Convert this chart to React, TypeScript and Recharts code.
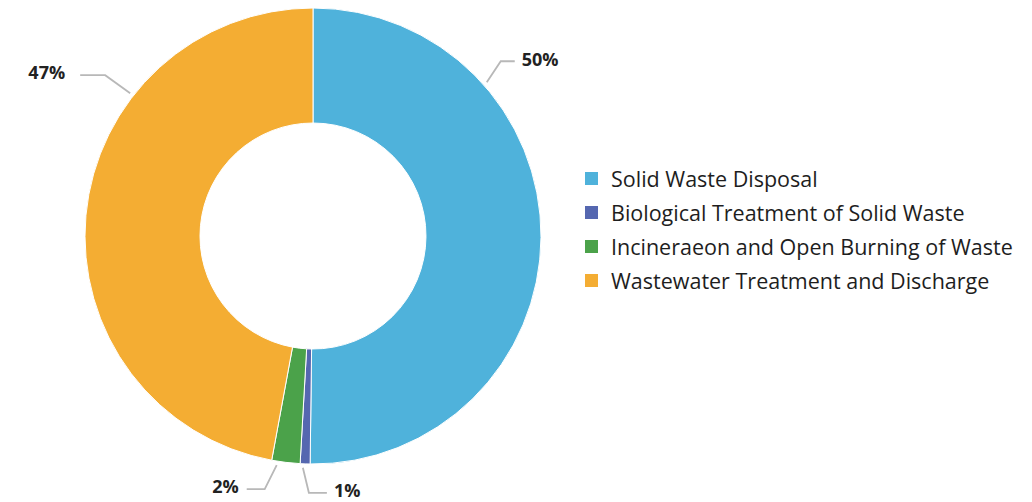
import React from "react";
import { PieChart, Pie, Cell } from "recharts";

const categories = [
  "Solid Waste Disposal",
  "Biological Treatment of Solid Waste",
  "Incineraeon and Open Burning of Waste",
  "Wastewater Treatment and Discharge",
];
const values = [50.2, 0.7, 2.0, 47.1];
const labels = ["50%", "1%", "2%", "47%"];
const colors = ["#4FB2DB", "#5567B0", "#4BA24A", "#F4AD33"];

// label leader-line geometry (angle on circle, elbow offset, horizontal run, text gap)
const labelAngles = [41.5, -92.5, -99, 142];
const elbowDx = [14, 6, -12, -25];
const elbowDy = [-21, 25, 24, -18];
const runDx = [14, 18, -18, -25];
const textGap = [7, 7, 8, 15];

const data = categories.map((name, i) => ({ name, value: values[i], label: labels[i] }));

const RAD = Math.PI / 180;

const renderLabel = (props: any) => {
  const { cx, cy, outerRadius, index } = props;
  const a = labelAngles[index];
  const sx = cx + (outerRadius + 4) * Math.cos(a * RAD);
  const sy = cy - (outerRadius + 4) * Math.sin(a * RAD);
  const mx = sx + elbowDx[index];
  const my = sy + elbowDy[index];
  const ex = mx + runDx[index];
  const right = runDx[index] > 0;
  return (
    <g key={`lbl-${index}`}>
      <polyline
        points={`${sx},${sy} ${mx},${my} ${ex},${my}`}
        fill="none"
        stroke="#b8b8b8"
        strokeWidth={1.8}
      />
      <text
        x={ex + (right ? textGap[index] : -textGap[index])}
        y={my - 2}
        dy="0.35em"
        textAnchor={right ? "start" : "end"}
        fontFamily="'Open Sans', sans-serif"
        fontWeight={700}
        fontSize={18}
        fill="#222"
      >
        {labels[index]}
      </text>
    </g>
  );
};

export default function App() {
  return (
    <div style={{ position: "absolute", left: 0, top: 0, width: 1032, height: 502, background: "#fff" }}>
      <PieChart width={1032} height={502} margin={{ top: 0, right: 0, bottom: 0, left: 0 }}>
        <Pie
          data={data}
          dataKey="value"
          nameKey="name"
          cx={313}
          cy={236}
          innerRadius={113}
          outerRadius={228}
          startAngle={90}
          endAngle={-270}
          stroke="#ffffff"
          strokeWidth={1}
          label={renderLabel}
          labelLine={false}
          isAnimationActive={false}
        >
          {data.map((d, i) => (
            <Cell key={d.name} fill={colors[i]} />
          ))}
        </Pie>
      </PieChart>
      <div style={{ position: "absolute", left: 585, top: 161, fontFamily: "'Open Sans', sans-serif" }}>
        {categories.map((c, i) => (
          <div key={c} style={{ display: "flex", alignItems: "center", height: 34 }}>
            <div style={{ width: 13, height: 13, background: colors[i], marginRight: 13 }} />
            <span style={{ fontSize: 21.5, fontWeight: 500, color: "#1e1e1e", whiteSpace: "nowrap" }}>{c}</span>
          </div>
        ))}
      </div>
    </div>
  );
}
